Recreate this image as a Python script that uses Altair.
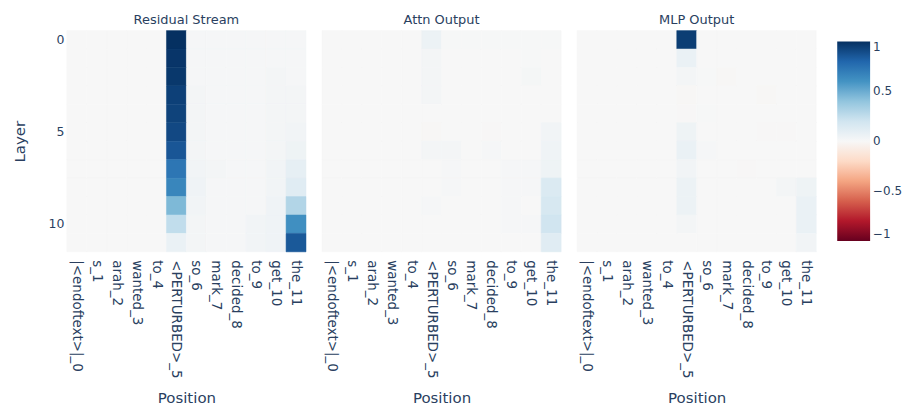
import altair as alt
import pandas as pd

positions = ["|<endoftext>|_0", "s_1", "arah_2", "wanted_3", "to_4", "<PERTURBED>_5",
             "so_6", "mark_7", "decided_8", "to_9", "get_10", "the_11"]
layers = list(range(12))
panel_titles = ["Residual Stream", "Attn Output", "MLP Output"]

resid_stream = [
    [0, 0, 0, 0, 0, 1.00, 0.01, 0.01, 0.01, 0.01, 0.01, 0.01],
    [0, 0, 0, 0, 0, 0.98, 0.01, 0.01, 0.01, 0.01, 0.01, 0.01],
    [0, 0, 0, 0, 0, 0.97, 0.01, 0.01, 0.01, 0.01, 0.02, 0.01],
    [0, 0, 0, 0, 0, 0.94, 0.02, 0.01, 0.01, 0.01, 0.02, 0.02],
    [0, 0, 0, 0, 0, 0.93, 0.02, 0.01, 0.01, 0.01, 0.02, 0.02],
    [0, 0, 0, 0, 0, 0.91, 0.02, 0.01, 0.01, 0.01, 0.02, 0.03],
    [0, 0, 0, 0, 0, 0.86, 0.02, 0.01, 0.01, 0.01, 0.02, 0.05],
    [0, 0, 0, 0, 0, 0.73, 0.03, 0.02, 0.01, 0.01, 0.03, 0.09],
    [0, 0, 0, 0, 0, 0.66, 0.04, 0.01, 0.01, 0.01, 0.03, 0.12],
    [0, 0, 0, 0, 0, 0.45, 0.03, 0.01, 0.01, 0.01, 0.04, 0.30],
    [0, 0, 0, 0, 0, 0.25, 0.02, 0.01, 0.01, 0.03, 0.04, 0.62],
    [0, 0, 0, 0, 0, 0.07, 0.02, 0.01, 0.01, 0.03, 0.04, 0.85],
]

attn_output = [
    [0, 0, 0, 0, 0, 0.06, 0.005, 0.005, 0.005, 0.005, 0.005, 0.005],
    [0, 0, 0, 0, 0, 0.02, 0, 0, 0, 0, 0.005, 0],
    [0, 0, 0, 0, 0, 0.02, 0, 0, 0, 0, 0.015, 0],
    [0, 0, 0, 0, 0, 0.02, 0, 0, 0, 0, 0, 0],
    [0, 0, 0, 0, 0, 0, 0, 0, 0, 0, 0, 0],
    [0, 0, 0, 0, 0, -0.01, 0, 0, -0.005, 0, 0, 0.03],
    [0, 0, 0, 0, 0, 0.02, 0.02, 0, 0.01, 0, 0, 0.04],
    [0, 0, 0, 0, 0, 0, 0.01, 0, 0, 0.01, 0.01, 0.05],
    [0, 0, 0, 0, 0, 0, 0.01, 0, 0, 0.01, 0.01, 0.15],
    [0, 0, 0, 0, 0, 0.01, 0, 0, 0, 0.01, 0, 0.17],
    [0, 0, 0, 0, 0, 0, 0, 0, 0, 0.01, 0.01, 0.20],
    [0, 0, 0, 0, 0, 0, 0, 0, 0, 0, 0, 0.12],
]

mlp_output = [
    [0, 0, 0, 0, 0, 0.95, 0, 0, 0, 0, 0, 0],
    [0, 0, 0, 0, 0, 0.07, 0, 0, 0, 0, 0, 0],
    [0, 0, 0, 0, 0, 0.02, 0.005, -0.01, 0, 0, 0, 0],
    [0, 0, 0, 0, 0, -0.01, 0, 0, 0, -0.01, 0, 0],
    [0, 0, 0, 0, 0, -0.005, 0.005, 0, 0, 0, 0, 0],
    [0, 0, 0, 0, 0, 0.05, 0, 0, 0, -0.005, -0.005, 0],
    [0, 0, 0, 0, 0, 0.07, 0.01, 0, 0, 0, 0, 0],
    [0, 0, 0, 0, 0, 0.03, 0, 0, -0.005, 0, 0, 0],
    [0, 0, 0, 0, 0, 0.06, 0, 0, 0, 0, 0.02, 0.05],
    [0, 0, 0, 0, 0, 0.06, 0, 0, 0, 0, 0, 0.07],
    [0, 0, 0, 0, 0, 0.02, 0, 0, 0, 0, 0, 0.07],
    [0, 0, 0, 0, 0, 0, 0, 0, 0, 0, 0, 0.03],
]

# RdBu colour stops (ColorBrewer), from -1 to 1
rdbu_stops = [-1, -0.8, -0.6, -0.4, -0.2, 0, 0.2, 0.4, 0.6, 0.8, 1]
rdbu_colors = ["#67001f", "#b2182b", "#d6604d", "#f4a582", "#fddbc7", "#f7f7f7",
               "#d1e5f0", "#92c5de", "#4393c3", "#2166ac", "#053061"]

FONT = "DejaVu Sans"
TXT = "#2a3f5f"

color_scale = alt.Scale(type="linear", domain=rdbu_stops, range=rdbu_colors,
                        interpolate="rgb")


def make_df(matrix):
    rows = []
    for li, row in zip(layers, matrix):
        for pos, v in zip(positions, row):
            rows.append({"Layer": li, "Position": pos, "value": v})
    return pd.DataFrame(rows)


def panel(matrix, title, show_y):
    y_axis = alt.Axis(
        values=[0, 5, 10], title="Layer" if show_y else None, labels=show_y,
        ticks=False, domain=False, labelFontSize=12.5, labelColor=TXT, labelFont=FONT,
        labelPadding=3, titleFontSize=15, titleFont=FONT, titleColor=TXT,
        titleFontWeight="normal", titlePadding=21,
    )
    return (
        alt.Chart(make_df(matrix), title=alt.TitleParams(
            title, fontSize=13, font=FONT, color=TXT, fontWeight="normal", offset=3))
        .mark_rect(stroke=alt.ExprRef(expr="scale('color', datum.value)"),
                   strokeWidth=0.5)
        .encode(
            x=alt.X("Position:O", sort=positions,
                    scale=alt.Scale(paddingInner=0, paddingOuter=0),
                    axis=alt.Axis(labelAngle=90, labelAlign="left", labelBaseline="middle",
                                  ticks=False, domain=False, labelFontSize=13.5,
                                  labelColor=TXT, labelFont=FONT, labelPadding=8,
                                  titleFontSize=15, titleFont=FONT, titleColor=TXT,
                                  titleFontWeight="normal", titlePadding=12)),
            y=alt.Y("Layer:O", sort=layers,
                    scale=alt.Scale(paddingInner=0, paddingOuter=0),
                    axis=y_axis),
            color=alt.Color("value:Q", scale=color_scale,
                            legend=alt.Legend(
                                type="gradient", padding=0,
                                title=None, orient="none", legendX=773, legendY=11,
                                direction="vertical", gradientLength=200,
                                gradientThickness=33, values=[-1, -0.5, 0, 0.5, 1],
                                format=".1~f",
                                labelFontSize=12, labelFont=FONT, labelColor=TXT,
                                labelOffset=3, gradientStrokeWidth=0)),
        )
        .properties(width=240, height=222)
    )


chart = (
    alt.hconcat(
        panel(resid_stream, panel_titles[0], True),
        panel(attn_output, panel_titles[1], False),
        panel(mlp_output, panel_titles[2], False),
        spacing=14,
    )
    .resolve_scale(color="shared")
    .configure_view(stroke=None)
    .properties(background="white",
                padding={"left": 4, "top": 5, "right": 0, "bottom": 0})
)

chart.save("out.html", embed_options={"renderer": "svg", "actions": False})
